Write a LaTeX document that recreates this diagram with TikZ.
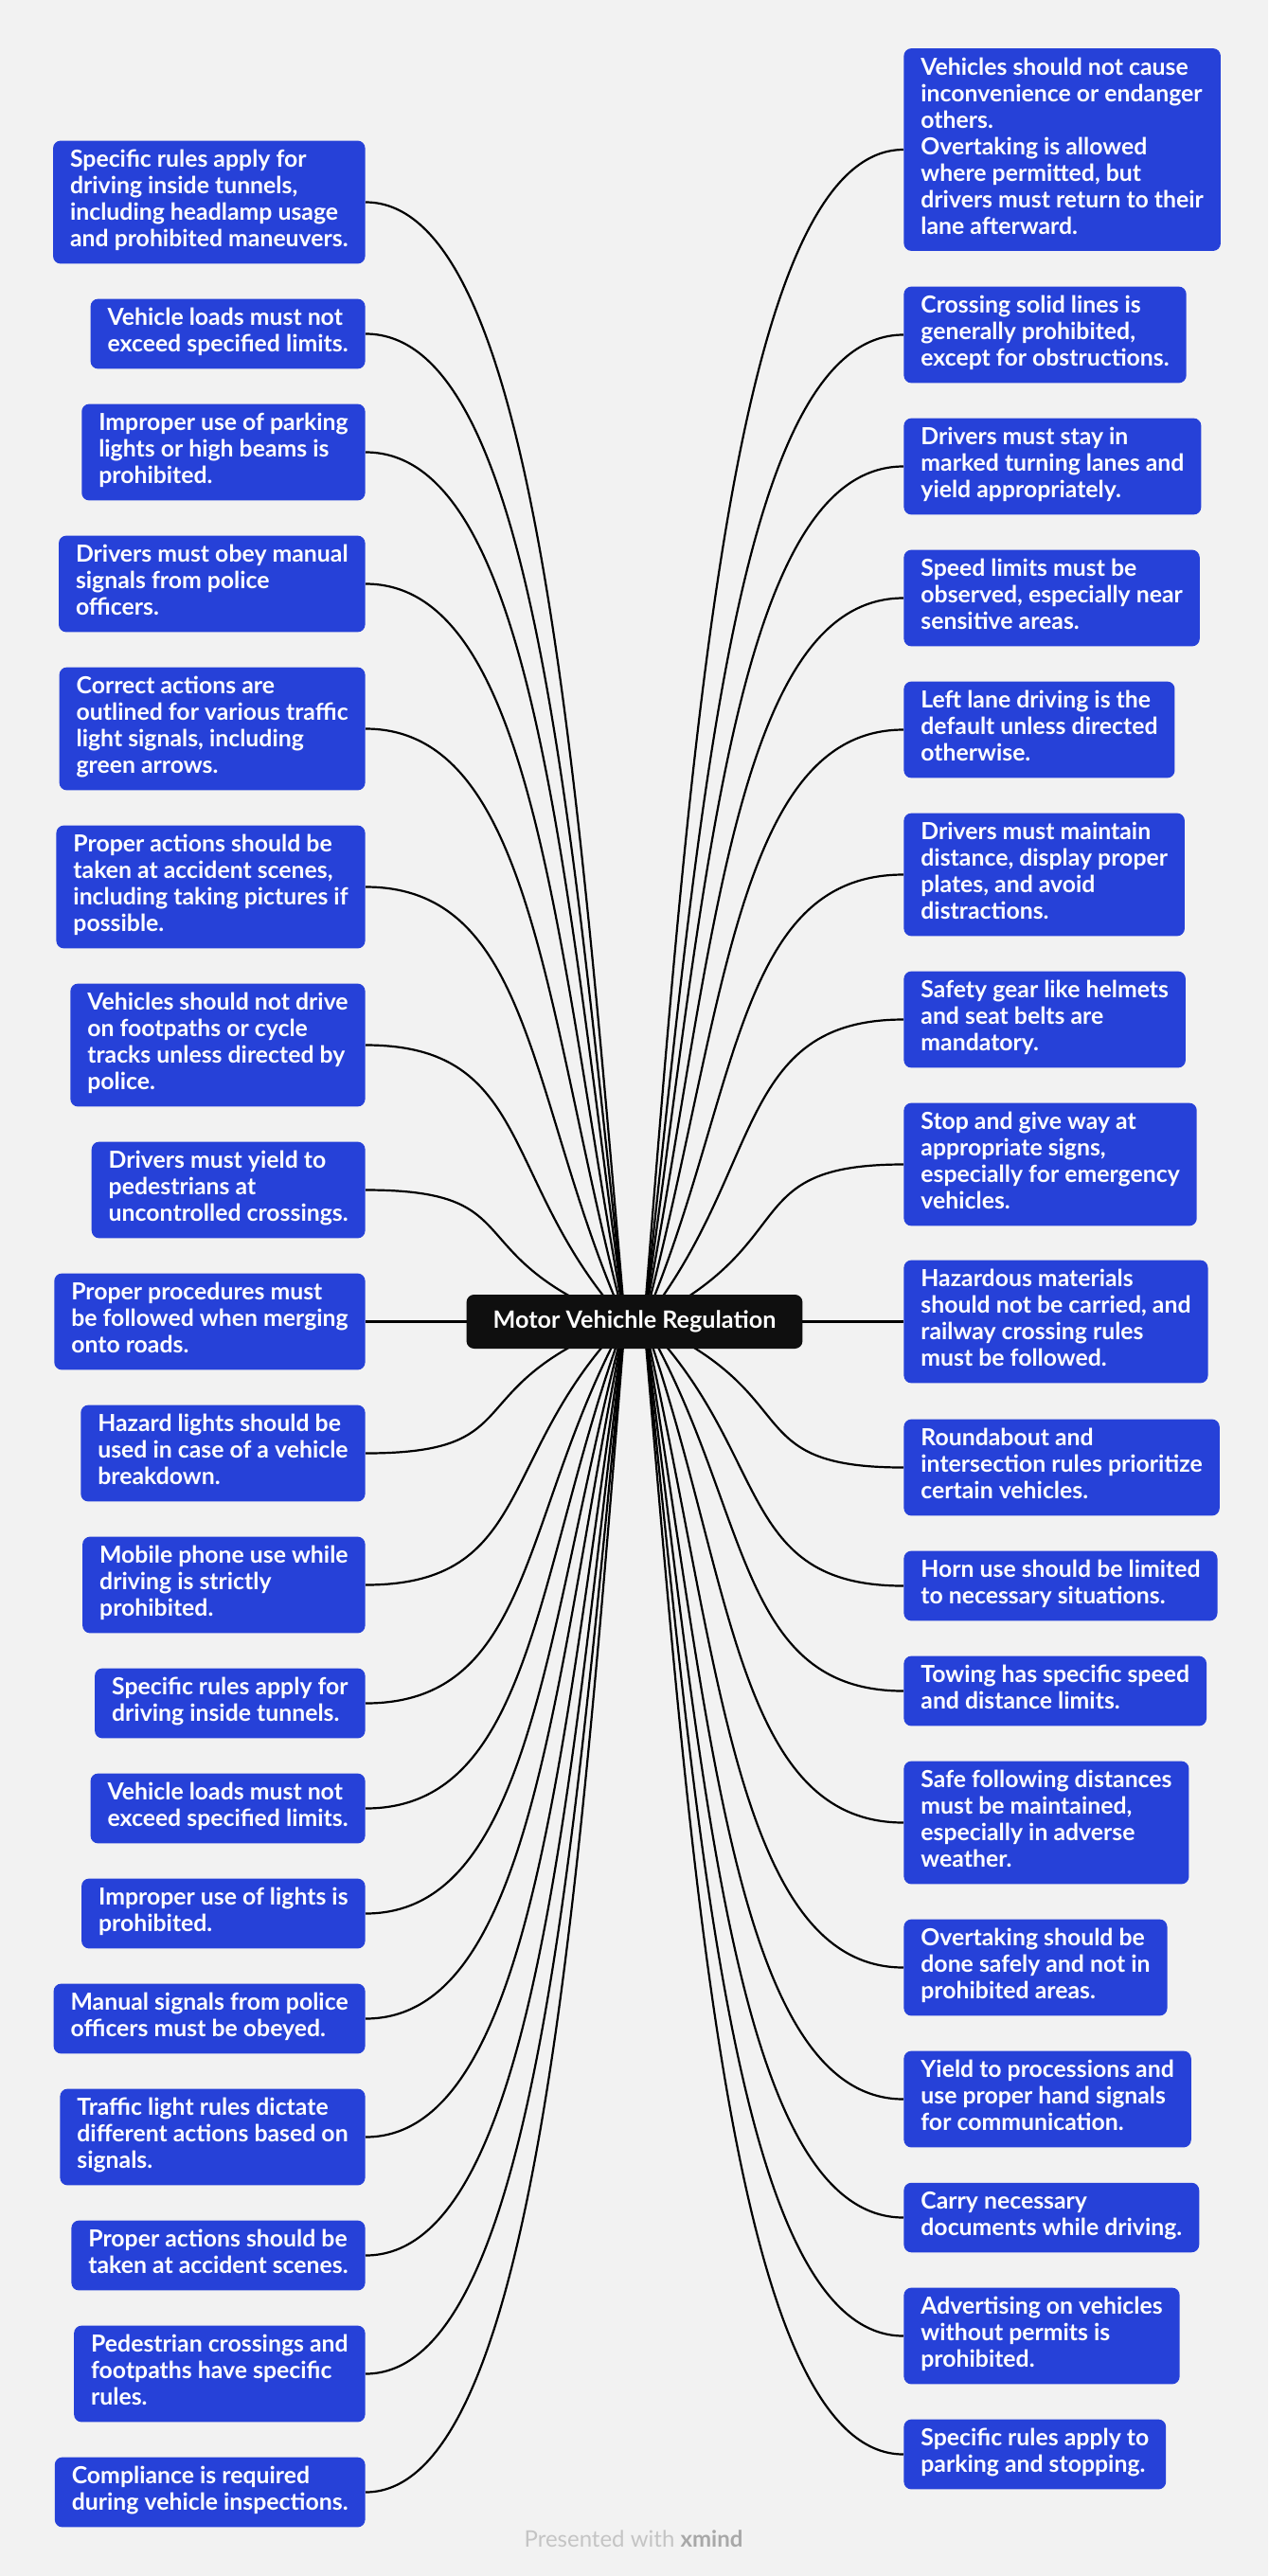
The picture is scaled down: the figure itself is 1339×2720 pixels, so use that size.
\documentclass[tikz,border=0pt]{standalone}
\usepackage{fontspec}
\setmainfont{Lato}
\usetikzlibrary{backgrounds,calc}
\definecolor{paper}{HTML}{F2F2F2}
\definecolor{leafblue}{HTML}{2641D8}
\definecolor{rootblack}{HTML}{0F0F0F}
\definecolor{creditgray}{HTML}{C4C4C4}
\definecolor{creditdark}{HTML}{A8A8A8}
\tikzset{
    leaf/.style={fill=leafblue, text=white, rounded corners=4pt, align=left,
        inner xsep=9pt, inner ysep=4.75pt, font=\fontsize{12.4}{14}\selectfont\bfseries,
        execute at begin node=\strut, execute at end node=\strut},
    hub/.style={fill=rootblack, text=white, rounded corners=4pt, inner xsep=14pt,
        minimum height=28.5pt, font=\fontsize{12.6}{14}\selectfont\bfseries},
    branch/.style={line width=1.1pt, black}
}
\begin{document}
\begin{tikzpicture}[x=0.5pt,y=-0.5pt]
            \useasboundingbox (0,0) rectangle (1339,2720);

            \node[hub] (root) at (670,1395.5) {Motor Vehichle Regulation};
            \coordinate (hubl) at (660,1395.5);
            \coordinate (hubr) at (680,1395.5);

            % left
            \node[leaf,anchor=east] (l1) at (386,213.5) {Specific rules apply for\\driving inside tunnels,\\including headlamp usage\\and prohibited maneuvers.};
            \node[leaf,anchor=east] (l2) at (386,352.5) {Vehicle loads must not\\exceed specified limits.};
            \node[leaf,anchor=east] (l3) at (386,477.5) {Improper use of parking\\lights or high beams is\\prohibited.};
            \node[leaf,anchor=east] (l4) at (386,616.5) {Drivers must obey manual\\signals from police\\officers.};
            \node[leaf,anchor=east] (l5) at (386,769.5) {Correct actions are\\outlined for various traffic\\light signals, including\\green arrows.};
            \node[leaf,anchor=east] (l6) at (386,936.5) {Proper actions should be\\taken at accident scenes,\\including taking pictures if\\possible.};
            \node[leaf,anchor=east] (l7) at (386,1103.5) {Vehicles should not drive\\on footpaths or cycle\\tracks unless directed by\\police.};
            \node[leaf,anchor=east] (l8) at (386,1256.5) {Drivers must yield to\\pedestrians at\\uncontrolled crossings.};
            \node[leaf,anchor=east] (l9) at (386,1395.5) {Proper procedures must\\be followed when merging\\onto roads.};
            \node[leaf,anchor=east] (l10) at (386,1534.5) {Hazard lights should be\\used in case of a vehicle\\breakdown.};
            \node[leaf,anchor=east] (l11) at (386,1673.5) {Mobile phone use while\\driving is strictly\\prohibited.};
            \node[leaf,anchor=east] (l12) at (386,1798.5) {Specific rules apply for\\driving inside tunnels.};
            \node[leaf,anchor=east] (l13) at (386,1909.5) {Vehicle loads must not\\exceed specified limits.};
            \node[leaf,anchor=east] (l14) at (386,2020.5) {Improper use of lights is\\prohibited.};
            \node[leaf,anchor=east] (l15) at (386,2131.5) {Manual signals from police\\officers must be obeyed.};
            \node[leaf,anchor=east] (l16) at (386,2256.5) {Traffic light rules dictate\\different actions based on\\signals.};
            \node[leaf,anchor=east] (l17) at (386,2381.5) {Proper actions should be\\taken at accident scenes.};
            \node[leaf,anchor=east] (l18) at (386,2506.5) {Pedestrian crossings and\\footpaths have specific\\rules.};
            \node[leaf,anchor=east] (l19) at (386,2631.5) {Compliance is required\\during vehicle inspections.};

            % right
            \node[leaf,anchor=west] (r1) at (954,158) {Vehicles should not cause\\inconvenience or endanger\\others.\\Overtaking is allowed\\where permitted, but\\drivers must return to their\\lane afterward.};
            \node[leaf,anchor=west] (r2) at (954,353.5) {Crossing solid lines is\\generally prohibited,\\except for obstructions.};
            \node[leaf,anchor=west] (r3) at (954,492.5) {Drivers must stay in\\marked turning lanes and\\yield appropriately.};
            \node[leaf,anchor=west] (r4) at (954,631.5) {Speed limits must be\\observed, especially near\\sensitive areas.};
            \node[leaf,anchor=west] (r5) at (954,770.5) {Left lane driving is the\\default unless directed\\otherwise.};
            \node[leaf,anchor=west] (r6) at (954,923.5) {Drivers must maintain\\distance, display proper\\plates, and avoid\\distractions.};
            \node[leaf,anchor=west] (r7) at (954,1076.5) {Safety gear like helmets\\and seat belts are\\mandatory.};
            \node[leaf,anchor=west] (r8) at (954,1229.5) {Stop and give way at\\appropriate signs,\\especially for emergency\\vehicles.};
            \node[leaf,anchor=west] (r9) at (954,1395.5) {Hazardous materials\\should not be carried, and\\railway crossing rules\\must be followed.};
            \node[leaf,anchor=west] (r10) at (954,1549.5) {Roundabout and\\intersection rules prioritize\\certain vehicles.};
            \node[leaf,anchor=west] (r11) at (954,1674.5) {Horn use should be limited\\to necessary situations.};
            \node[leaf,anchor=west] (r12) at (954,1785.5) {Towing has specific speed\\and distance limits.};
            \node[leaf,anchor=west] (r13) at (954,1924.5) {Safe following distances\\must be maintained,\\especially in adverse\\weather.};
            \node[leaf,anchor=west] (r14) at (954,2077.5) {Overtaking should be\\done safely and not in\\prohibited areas.};
            \node[leaf,anchor=west] (r15) at (954,2216.5) {Yield to processions and\\use proper hand signals\\for communication.};
            \node[leaf,anchor=west] (r16) at (954,2341.5) {Carry necessary\\documents while driving.};
            \node[leaf,anchor=west] (r17) at (954,2466.5) {Advertising on vehicles\\without permits is\\prohibited.};
            \node[leaf,anchor=west] (r18) at (954,2591.5) {Specific rules apply to\\parking and stopping.};

            \node[font=\fontsize{12}{14}\selectfont, text=creditgray] (credit) at (669,2681) {Presented with \textcolor{creditdark}{\bfseries xmind}};

            \begin{scope}[on background layer]
                \fill[paper] (0,0) rectangle (1339,2720);
                \foreach \i in {1,...,19}
                    \draw[branch] let \p1=(l\i.east), \p2=(hubl), \n1={\x2-\x1}, \n2={\y2-\y1} in
                        (\p1) .. controls ({\x1+0.65*\n1},\y1) and ({\x2-\n1*(abs(\n1)/(abs(\n1)+abs(\n2)))},{\y2-0.5*\n2}) .. (\p2);
                \foreach \i in {1,...,18}
                    \draw[branch] let \p1=(r\i.west), \p2=(hubr), \n1={\x2-\x1}, \n2={\y2-\y1} in
                        (\p1) .. controls ({\x1+0.65*\n1},\y1) and ({\x2-\n1*(abs(\n1)/(abs(\n1)+abs(\n2)))},{\y2-0.5*\n2}) .. (\p2);
            \end{scope}
        \end{tikzpicture}
\end{document}
